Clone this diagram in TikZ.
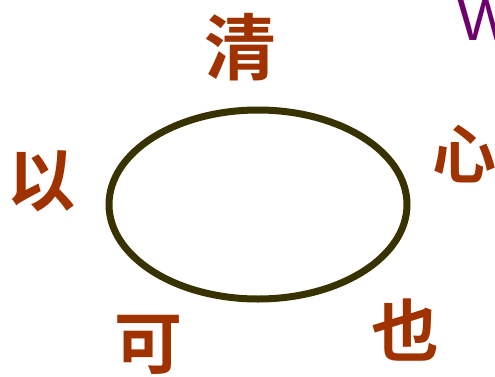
\documentclass[tikz,border=0pt]{standalone}
\usepackage{fontspec}
\newfontfamily\cjk{Noto Sans CJK SC Bold}
\newfontfamily\latin{Liberation Sans}
\usepackage{xcolor}
\definecolor{charcol}{RGB}{160,50,0}
\definecolor{ringcol}{RGB}{55,50,0}
\definecolor{letcol}{RGB}{110,0,110}

\begin{document}
\begin{tikzpicture}[
  x=1pt, y=1pt,
  char/.style={text=charcol, inner sep=0pt, font=\cjk\fontsize{68}{68}\selectfont},
  ring/.style={draw=ringcol, line width=7pt},
]
  \useasboundingbox (0,0) rectangle (495,376);
  % ring in the middle
  \draw[ring] (258,171.5) ellipse [x radius=149, y radius=94.5];
  % characters round it
  \node[char, font=\cjk\fontsize{72}{72}\selectfont] (qing) at (240,329) {清};
  \node[char, font=\cjk\fontsize{64}{64}\selectfont] (xin) at (464,222) {心};
  \node[char] (yi)  at (42,195)  {以};
  \node[char] (ke)  at (148,31)  {可};
  \node[char] (ye)  at (405,46)  {也};
  % letter at the corner
  \node[anchor=base west, inner sep=0pt, text=letcol, font=\latin\fontsize{60}{60}\selectfont] (w) at (457,336) {W};
\end{tikzpicture}
\end{document}
